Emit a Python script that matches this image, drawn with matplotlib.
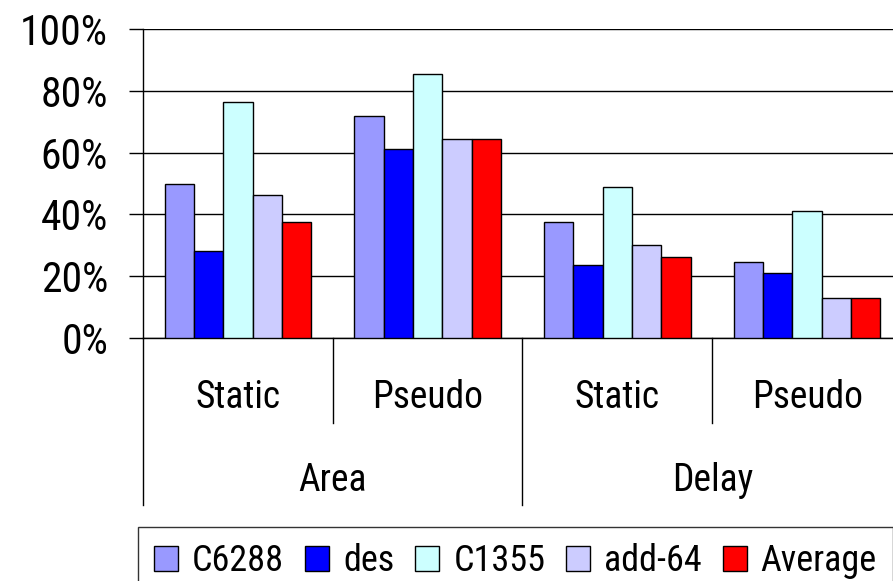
import numpy as np
import matplotlib.pyplot as plt
from matplotlib.ticker import PercentFormatter

# circuits and their reduction per category
series = ['C6288', 'des', 'C1355', 'add-64', 'Average']
colors = ['#9999FF', '#0000FF', '#CCFFFF', '#CCCCFF', '#FF0000']
inner = ['Static', 'Pseudo', 'Static', 'Pseudo']
outer = ['Area', 'Delay']

c6288 = [49.7, 71.8, 37.6, 24.5]
des = [28.1, 61.3, 23.6, 21.1]
c1355 = [76.4, 85.5, 48.8, 41.1]
add64 = [46.3, 64.4, 30.1, 13.0]
average = [37.6, 64.4, 26.1, 13.0]
values = [c6288, des, c1355, add64, average]

plt.rcParams['font.family'] = ['Roboto Condensed', 'Liberation Sans', 'DejaVu Sans']

fig = plt.figure(figsize=(8.93, 5.81), dpi=100)
ax = fig.add_axes([0.1601, 0.4182, 0.85, 0.5319])

w = 0.1545
x = np.arange(len(inner)) + 0.5
for i, (name, vals, col) in enumerate(zip(series, values, colors)):
    ax.bar(x + (i - 2) * w, vals, w, color=col, edgecolor='black',
           linewidth=1.0, label=name, zorder=3)

ax.set_xlim(0, 4)
ax.set_ylim(0, 100)
ax.set_yticks(np.arange(0, 101, 20))
ax.yaxis.set_major_formatter(PercentFormatter(decimals=0))
ax.tick_params(axis='y', direction='out', length=10, width=1.0, pad=15,
               labelsize=30)
ax.set_xticks([])
ax.grid(axis='y', color='black', linewidth=1.0, zorder=0)
for s in ['top', 'right']:
    ax.spines[s].set_visible(False)
ax.spines['left'].set_linewidth(1.0)
ax.spines['bottom'].set_linewidth(1.0)

# two-level category axis
tr = ax.get_xaxis_transform()
for xb in [1, 3]:
    ax.plot([xb, xb], [0, -0.275], transform=tr, color='black', lw=1.0,
            clip_on=False)
for xb in [0, 2, 4]:
    ax.plot([xb, xb], [0, -0.54], transform=tr, color='black', lw=1.0,
            clip_on=False)
for xc, lab in zip(x, inner):
    ax.text(xc, -0.191, lab, transform=tr, ha='center', va='center',
            fontsize=27)
for j, lab in enumerate(outer):
    ax.text(2 * j + 1, -0.46, lab, transform=tr, ha='center', va='center',
            fontsize=27)

leg = fig.legend(loc='upper left', bbox_to_anchor=(138 / 893, 1 - 527 / 581),
                 ncol=5, fontsize=26, frameon=True, fancybox=False,
                 edgecolor='black', handlelength=0.66, handleheight=0.66,
                 handletextpad=0.39, columnspacing=0.58, borderpad=0.45,
                 borderaxespad=0)
leg.get_frame().set_linewidth(1.0)

fig.savefig('out.png', dpi=100)
